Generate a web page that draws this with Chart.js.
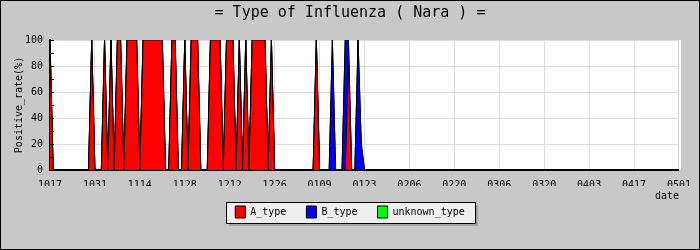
<!DOCTYPE html>
<html>
<head>
<meta charset="utf-8">
<script src="https://cdn.jsdelivr.net/npm/chart.js@4.4.0/dist/chart.umd.min.js"></script>
<style>
  html, body { margin: 0; padding: 0; background: #c8c8c8; }
  canvas { display: block; }
</style>
</head>
<body>
<canvas id="fluChart" width="700" height="250"></canvas>
<script>
// x axis: one point per day from 10/17, a tick label every 14 days
const tickLabels = ['1017', '1031', '1114', '1128', '1212', '1226', '0109', '0123',
                    '0206', '0220', '0306', '0320', '0403', '0417', '0501'];
const daysPerTick = 14;

// positive rate (%) per day, 1017 .. 0123
const aType = [
  100,   0,   0,   0,   0,   0,   0,
    0,   0,   0,   0,   0,   0, 100,
    0,   0,   0, 100,   0, 100,   0,
  100, 100,   0, 100, 100, 100, 100,
    0, 100, 100, 100, 100, 100, 100,
  100,   0,   0, 100, 100,   0,   0,
  100,   0, 100, 100, 100,   0,   0,
    0, 100, 100, 100, 100,   0, 100,
  100, 100,   0, 100,   0, 100,   0,
  100, 100, 100, 100, 100,   0, 100,
    0,   0,   0,   0,   0,   0,   0,
    0,   0,   0,   0,   0,   0, 100,
    0,   0,   0,   0,   0,   0,   0,
    0,   0,  80,   0,   0,   0,   0,
    0
];

const bType = [
  0, 0, 0, 0, 0, 0, 0,
  0, 0, 0, 0, 0, 0, 0,
  0, 0, 0, 0, 0, 0, 0,
  0, 0, 0, 0, 0, 0, 0,
  0, 0, 0, 0, 0, 0, 0,
  0, 0, 0, 0, 0, 0, 0,
  0, 0, 0, 0, 0, 0, 0,
  0, 0, 0, 0, 0, 0, 0,
  0, 0, 0, 0, 0, 0, 0,
  0, 0, 0, 0, 0, 0, 0,
  0, 0, 0, 0, 0, 0, 0,
  0, 0, 0, 0, 0, 0, 0,
  0, 0, 0, 0, 100, 0, 0,
  0, 100, 20, 0, 0, 100, 20,
  0
];

const unknownType = [
  0, 0, 0, 0, 0, 0, 0,
  0, 0, 0, 0, 0, 0, 0,
  0, 0, 0, 0, 0, 0, 0,
  0, 0, 0, 0, 0, 0, 0,
  0, 0, 0, 0, 0, 0, 0,
  0, 0, 0, 0, 0, 0, 0,
  0, 0, 0, 0, 0, 0, 0,
  0, 0, 0, 0, 0, 0, 0,
  0, 0, 0, 0, 0, 0, 0,
  0, 0, 0, 0, 0, 0, 0,
  0, 0, 0, 0, 0, 0, 0,
  0, 0, 0, 0, 0, 0, 0,
  0, 0, 0, 0, 0, 0, 0,
  0, 0, 0, 0, 0, 0, 0,
  0
];

const mono = 'DejaVu Sans Mono';

function toPoints(values) {
  return values.map((v, i) => ({ x: i, y: v }));
}

function makeSet(label, values, color, fill) {
  return {
    label: label,
    data: toPoints(values),
    backgroundColor: color,
    borderColor: '#000000',
    borderWidth: 1,
    fill: fill,
    pointRadius: 0,
    tension: 0
  };
}

// grey frame, white plot area, boxed legend with shadow
const framePlugin = {
  id: 'frame',
  beforeDraw(chart) {
    const ctx = chart.ctx;
    const a = chart.chartArea;
    ctx.save();
    ctx.fillStyle = '#c8c8c8';
    ctx.fillRect(0, 0, chart.width, chart.height);
    ctx.fillStyle = '#ffffff';
    ctx.fillRect(a.left, a.top, a.right - a.left + 2, a.bottom - a.top);

    const boxes = chart.legend.legendHitBoxes;
    if (boxes && boxes.length) {
      const l = Math.round(Math.min(...boxes.map(b => b.left)) - 9);
      const r = Math.round(Math.max(...boxes.map(b => b.left + b.width)) + 10);
      const t = Math.round(boxes[0].top - 4);
      const b = Math.round(boxes[0].top + boxes[0].height + 5);
      ctx.fillStyle = '#a4a4a4';
      ctx.fillRect(l + 3, t + 3, r - l, b - t);
      ctx.fillStyle = '#efefef';
      ctx.fillRect(l, t, r - l, b - t);
      ctx.strokeStyle = '#000000';
      ctx.lineWidth = 1;
      ctx.strokeRect(l + 0.5, t + 0.5, r - l, b - t);
    }
    ctx.strokeStyle = '#000000';
    ctx.lineWidth = 1;
    ctx.strokeRect(0.5, 0.5, chart.width - 1, chart.height - 1);
    ctx.restore();
  },
  afterDraw(chart) {
    // small inner ticks every 10% on the y axis
    const ctx = chart.ctx;
    const y = chart.scales.y;
    const left = chart.chartArea.left;
    ctx.save();
    ctx.strokeStyle = '#000000';
    ctx.lineWidth = 1;
    for (let v = 0; v <= 100; v += 10) {
      const py = Math.round(y.getPixelForValue(v)) + 0.5;
      ctx.beginPath();
      ctx.moveTo(left, py);
      ctx.lineTo(left + 4, py);
      ctx.stroke();
    }
    ctx.restore();
  }
};

new Chart(document.getElementById('fluChart').getContext('2d'), {
  type: 'line',
  data: {
    datasets: [
      makeSet('A_type', aType, '#ff0000', 'origin'),
      makeSet('B_type', bType, '#0000ff', '-1'),
      makeSet('unknown_type', unknownType, '#00ff00', '-1')
    ]
  },
  options: {
    responsive: false,
    animation: false,
    devicePixelRatio: 1,
    layout: { padding: { left: 0, right: 0, top: 0, bottom: 22 } },
    plugins: {
      title: {
        display: true,
        text: '= Type of Influenza ( Nara ) =',
        color: '#000000',
        font: { family: mono, size: 15, weight: 'normal' },
        padding: { top: 4, bottom: 18 }
      },
      legend: {
        position: 'bottom',
        labels: {
          color: '#000000',
          font: { family: mono, size: 10 },
          boxWidth: 10,
          boxHeight: 12,
          padding: 20
        }
      },
      tooltip: { enabled: false }
    },
    scales: {
      x: {
        type: 'linear',
        min: 0,
        max: (tickLabels.length - 1) * daysPerTick,
        afterBuildTicks(scale) {
          scale.ticks = tickLabels.map((_, i) => ({ value: i * daysPerTick }));
        },
        afterFit(scale) { scale.height = 16; },
        grid: { color: '#dcdcdc', drawTicks: false },
        border: { color: '#000000', width: 2 },
        ticks: {
          color: '#000000',
          font: { family: mono, size: 10 },
          padding: 9,
          maxRotation: 0,
          autoSkip: false,
          callback: (value) => tickLabels[value / daysPerTick]
        },
        title: {
          display: true,
          text: 'date',
          align: 'end',
          color: '#000000',
          font: { family: mono, size: 10 },
          padding: { top: 0, bottom: -16 }
        }
      },
      y: {
        stacked: true,
        min: 0,
        max: 100,
        afterFit(scale) { scale.width = 50; },
        grid: { color: '#dcdcdc', drawTicks: false },
        border: { color: '#000000', width: 2 },
        ticks: {
          stepSize: 20,
          color: '#000000',
          font: { family: mono, size: 10 },
          padding: 7
        },
        title: {
          display: true,
          text: 'Positive_rate(%)',
          color: '#000000',
          font: { family: mono, size: 10 },
          padding: { top: 13 }
        }
      },
      yRight: {
        axis: 'y',
        type: 'linear',
        position: 'right',
        grid: { display: false, drawTicks: false },
        border: { display: false },
        ticks: { display: false },
        afterFit(scale) { scale.width = 20; }
      }
    }
  },
  plugins: [framePlugin]
});
</script>
</body>
</html>
